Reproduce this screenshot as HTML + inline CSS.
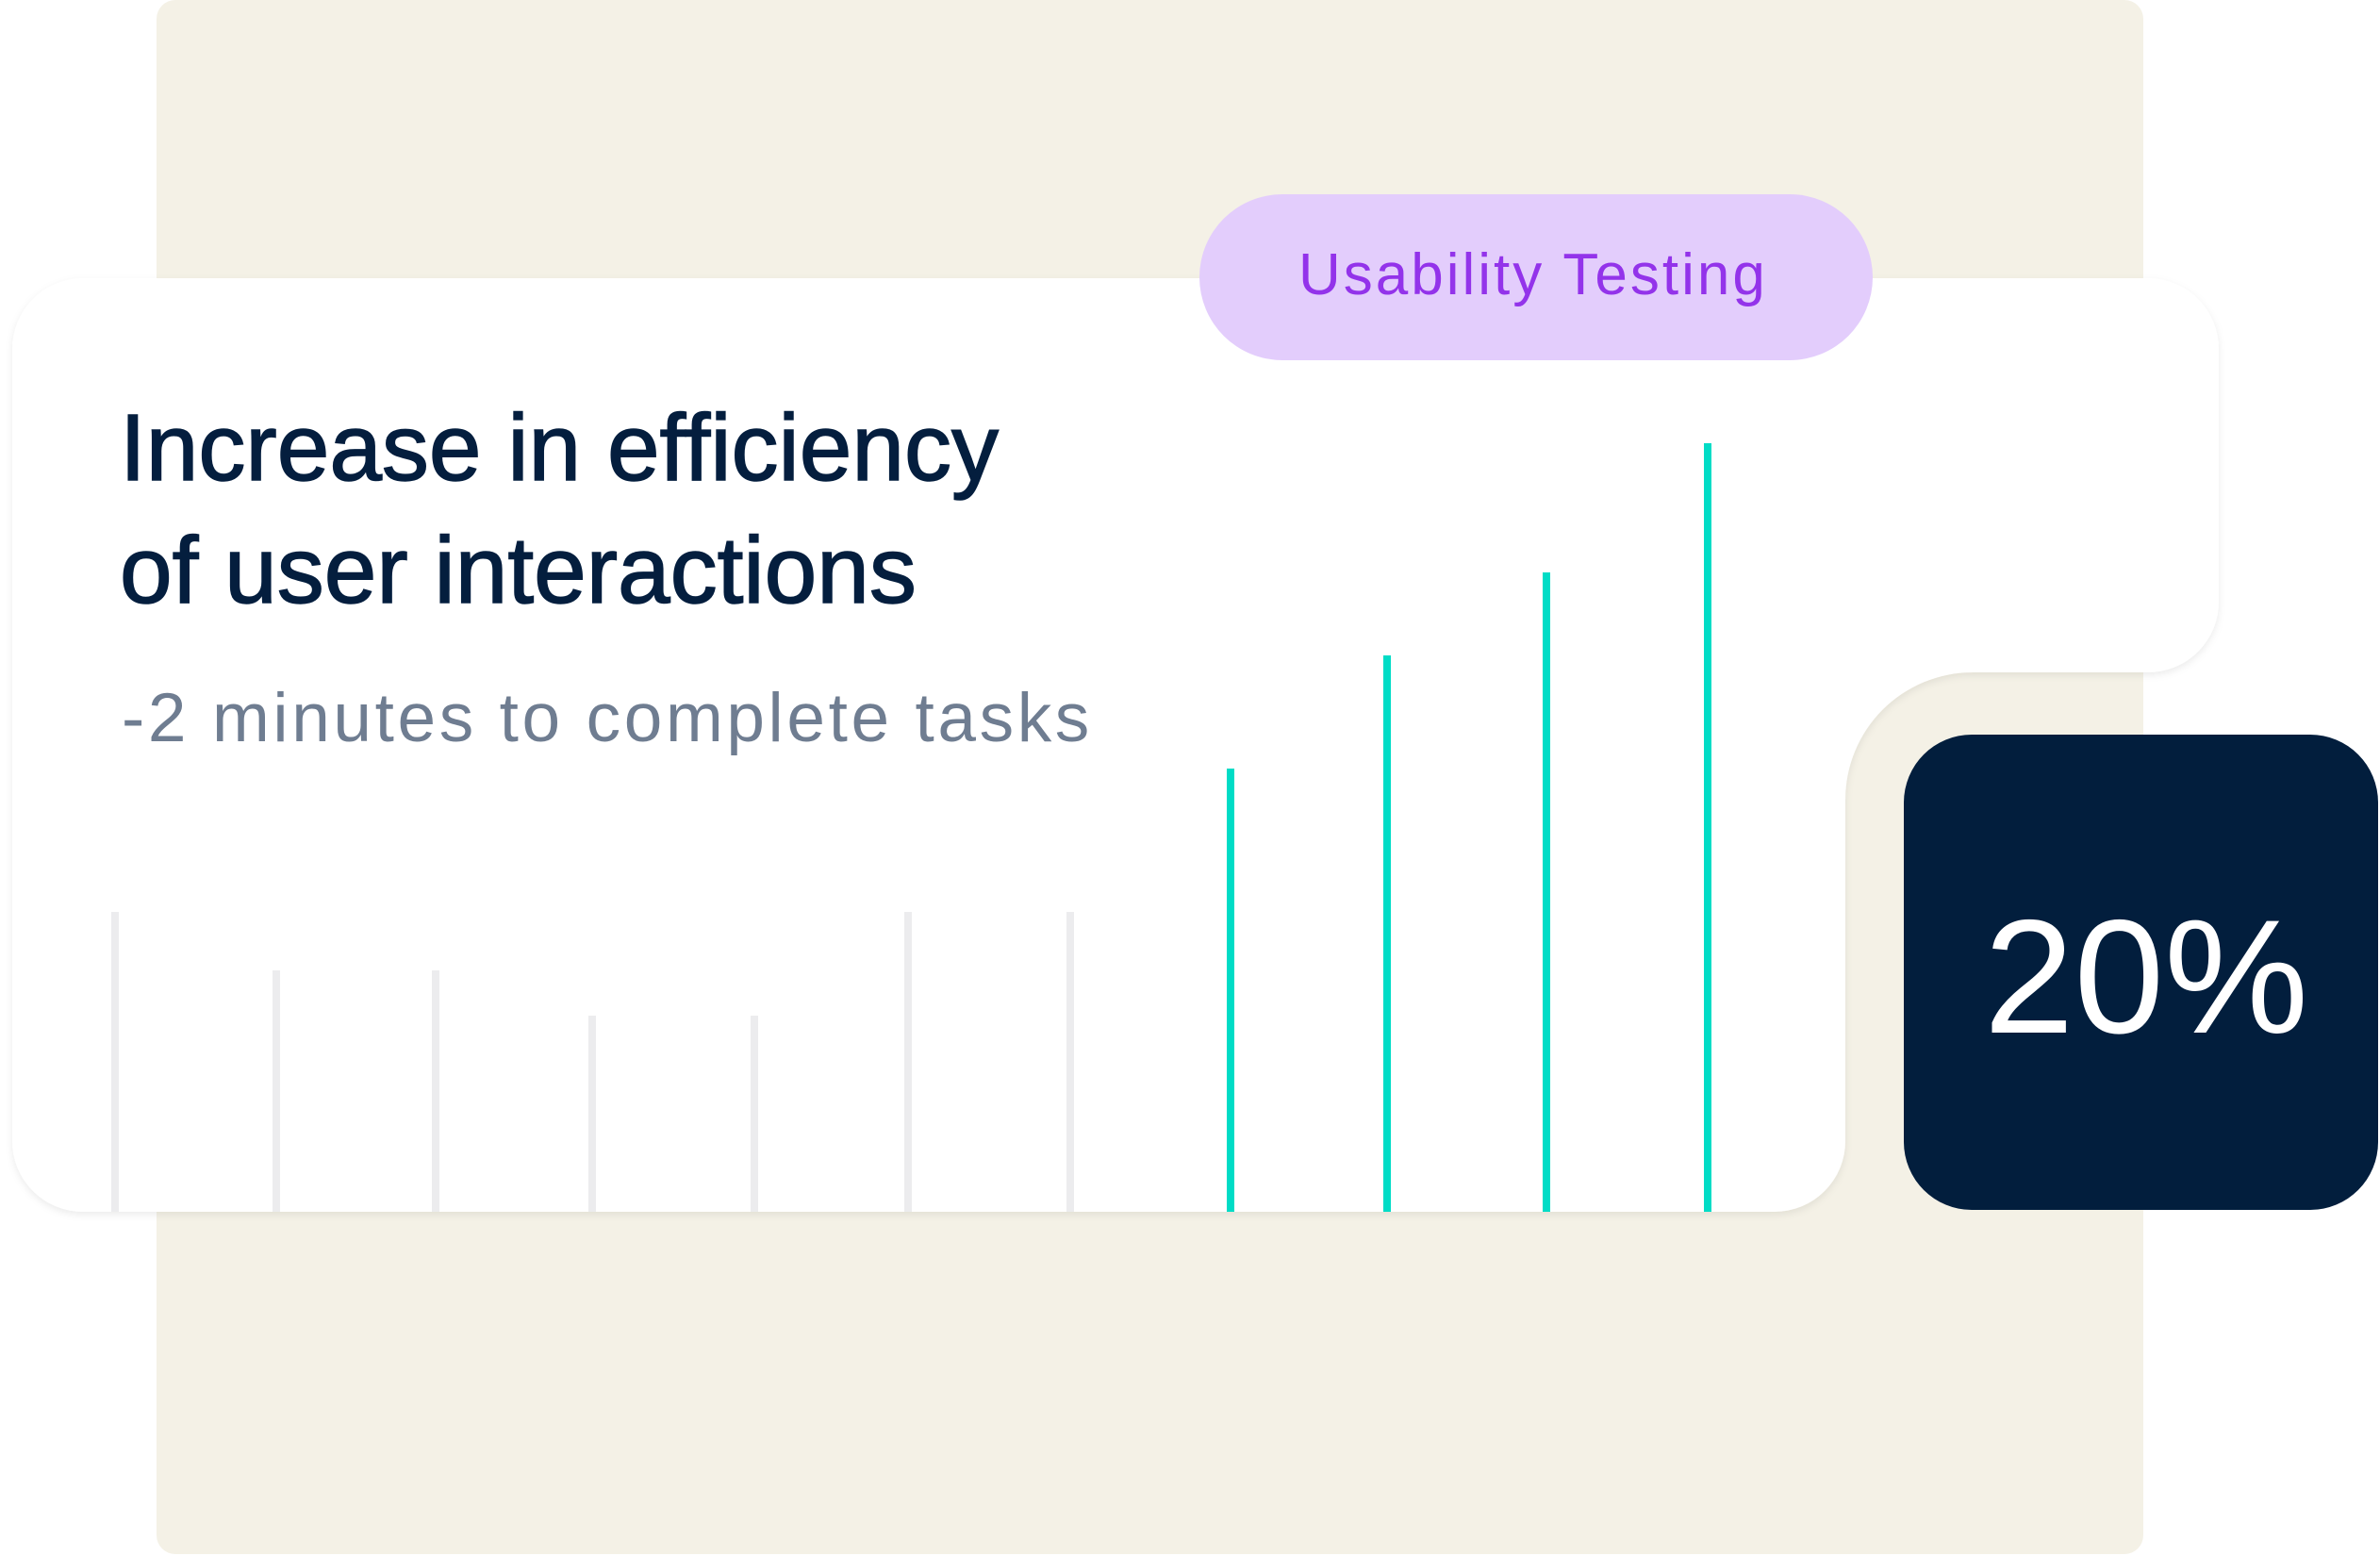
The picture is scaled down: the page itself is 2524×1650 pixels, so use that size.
<!DOCTYPE html>
<html><head><meta charset="utf-8"><style>
html,body{margin:0;padding:0;background:#fff;}
body{width:2524px;height:1650px;position:relative;overflow:hidden;font-family:"Liberation Sans",sans-serif;}
.bg{position:absolute;left:166px;top:0px;width:2107px;height:1648px;background:#f4f1e6;border-radius:20px;}
svg{position:absolute;left:0;top:0;}
</style></head><body>
<div class="bg"></div>
<svg width="2524" height="1650" viewBox="0 0 2524 1650">
<defs><filter id="sh" x="-5%" y="-5%" width="110%" height="115%"><feDropShadow dx="0" dy="3" stdDeviation="4" flood-color="#000" flood-opacity="0.08"/></filter></defs>
<path filter="url(#sh)" fill="#fff" d="M88,295 H2278 A75,75 0 0 1 2353,370 V638 A75,75 0 0 1 2278,713 H2092 A135,135 0 0 0 1957,848 V1210 A75,75 0 0 1 1882,1285 H88 A75,75 0 0 1 13,1210 V370 A75,75 0 0 1 88,295 Z"/>
<rect x="1272" y="206" width="714" height="176" rx="88" fill="#e3cdfc"/>
<g fill="#ececee">
<rect x="118" y="967" width="8" height="318"/>
<rect x="289" y="1029" width="8" height="256"/>
<rect x="458" y="1029" width="8" height="256"/>
<rect x="624" y="1077" width="8" height="208"/>
<rect x="796" y="1077" width="8" height="208"/>
<rect x="959" y="967" width="8" height="318"/>
<rect x="1131" y="967" width="8" height="318"/>
</g>
<g fill="#00dcc6">
<rect x="1301" y="815" width="8" height="470"/>
<rect x="1467" y="695" width="8" height="590"/>
<rect x="1636" y="607" width="8" height="678"/>
<rect x="1807" y="470" width="8" height="815"/>
</g>
<rect x="2019" y="779" width="503" height="504" rx="72" fill="#021e3d"/>
<text x="1377" y="312" font-size="62" fill="#9333ea" letter-spacing="3" font-family="Liberation Sans, sans-serif">Usability Testing</text>
<text x="2276" y="1095" font-size="172" fill="#fff" text-anchor="middle" font-family="Liberation Sans, sans-serif">20%</text>
<text x="127" y="509" font-size="100" fill="#041e3e" stroke="#041e3e" stroke-width="1.5" font-family="Liberation Sans, sans-serif">Increase in efficiency</text>
<text x="127" y="639" font-size="100" fill="#041e3e" stroke="#041e3e" stroke-width="1.5" font-family="Liberation Sans, sans-serif">of user interactions</text>
<text x="129" y="786" font-size="73" fill="#6f7d91" letter-spacing="3.6" font-family="Liberation Sans, sans-serif">-2 minutes to complete tasks</text>
</svg>
</body></html>
